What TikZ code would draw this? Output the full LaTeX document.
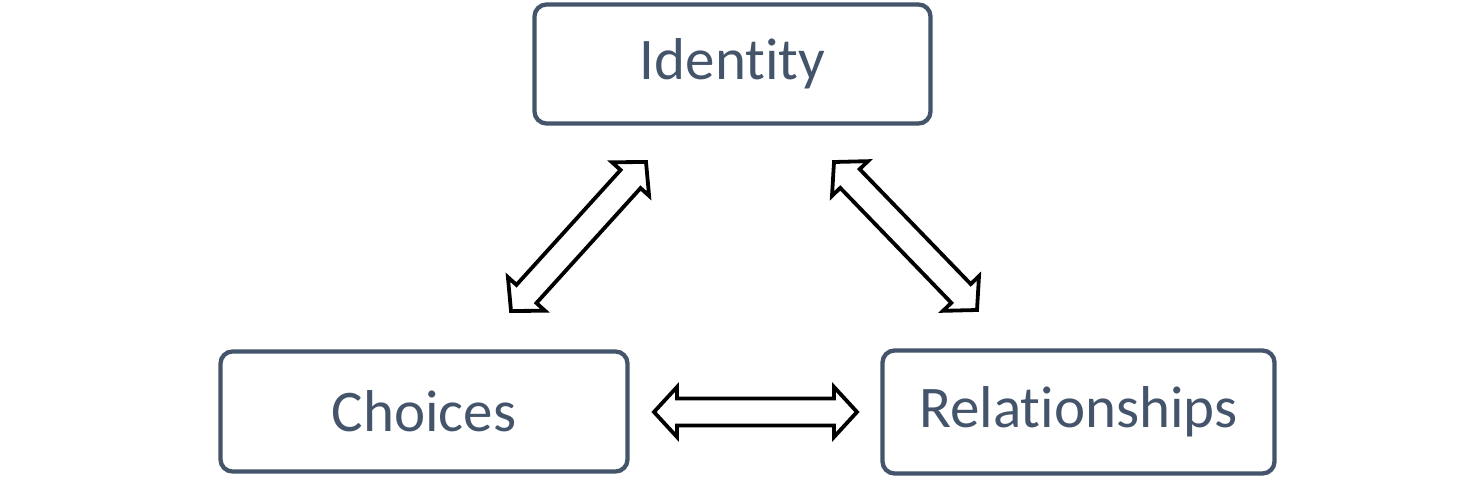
\documentclass[tikz,border=0pt]{standalone}
\usepackage{fontspec}
\setmainfont[Ligatures=NoCommon]{Carlito}
\usetikzlibrary{calc}
\definecolor{boxc}{HTML}{44546A}
\begin{document}
\begin{tikzpicture}[x=1pt,y=-1pt,
  box/.style={draw=boxc, line width=4.3pt, rounded corners=12pt, text=boxc,
    font=\fontsize{59}{63}\selectfont, inner sep=0pt, anchor=center},
  blockarr/.style={draw=black, line width=3.8pt, fill=white, line join=miter}]
\useasboundingbox (0,0) rectangle (1457,481);
\newcommand\dblarr[2]{%
  \path (#1) coordinate (PA0) (#2) coordinate (PB0);
  \path ($(PA0)!23pt!(PB0)$) coordinate (PA) ($(PB0)!23pt!(PA0)$) coordinate (PB);
  \draw[blockarr] (PA0) -- ($(PA)!25pt!90:(PB0)$) -- ($(PA)!13.5pt!90:(PB0)$)
    -- ($(PB)!13.5pt!-90:(PA0)$) -- ($(PB)!25pt!-90:(PA0)$) -- (PB0)
    -- ($(PB)!25pt!90:(PA0)$) -- ($(PB)!13.5pt!90:(PA0)$)
    -- ($(PA)!13.5pt!-90:(PB0)$) -- ($(PA)!25pt!-90:(PB0)$) -- cycle;}
\node[box, minimum width=396pt, minimum height=119pt] (identity) at (732.5,64) {Identity};
\node[box, minimum width=407pt, minimum height=120pt] (choices) at (424,411.5) {Choices};
\node[box, minimum width=392pt, minimum height=123pt] (relationships) at (1078.5,412) {Relationships};
\coordinate (l1) at (511,311);
\coordinate (l2) at (646,162);
\coordinate (r1) at (834,162);
\coordinate (r2) at (977,310);
\coordinate (h1) at (654,412);
\coordinate (h2) at (857,412);
\dblarr{l1}{l2}
\dblarr{r1}{r2}
\dblarr{h1}{h2}
\end{tikzpicture}
\end{document}
